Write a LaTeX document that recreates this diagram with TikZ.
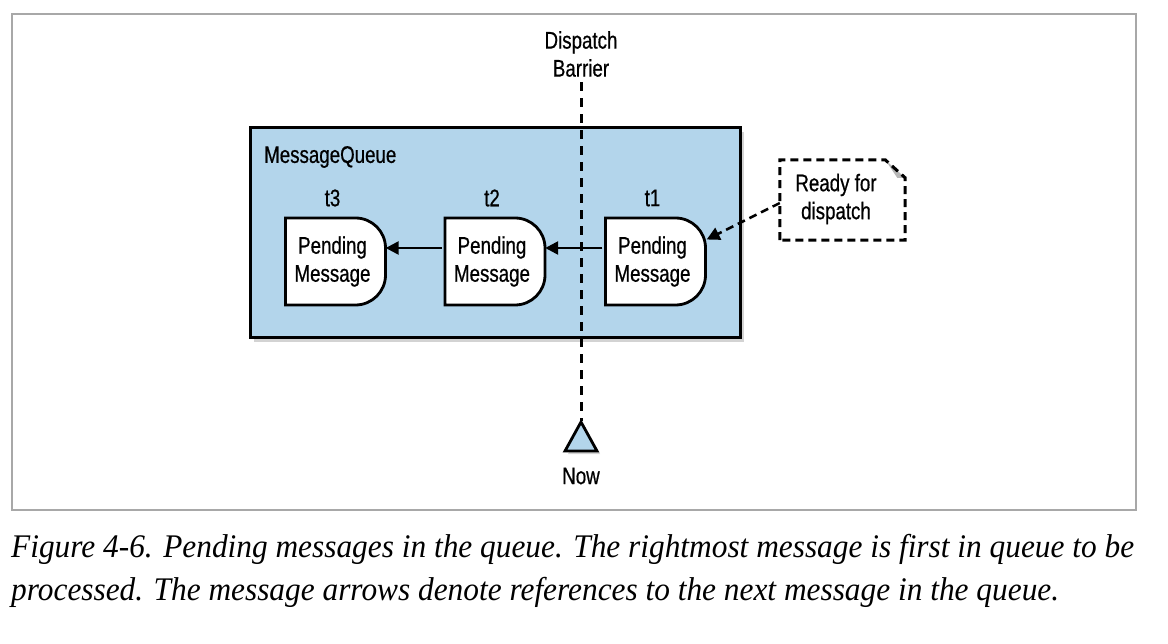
\documentclass[tikz,border=0pt]{standalone}
\usepackage{fontspec}
\setmainfont{Liberation Serif}
\newfontfamily\diag[FakeStretch=0.78,FakeBold=0.6]{Liberation Sans}
\newfontfamily\capfont[FakeStretch=0.95]{Liberation Serif}
\usetikzlibrary{shadows,arrows.meta}
\definecolor{qblue}{HTML}{B3D5EB}
\definecolor{framegray}{HTML}{A8A8A8}
\definecolor{foldgray}{HTML}{B8B8B8}
\newcommand\pendmsg[4]{% name, cx, cy, label
  \draw[msgline] (#2-50,#3-43.5) -- (#2+20,#3-43.5)
    arc[start angle=90,end angle=0,radius=30pt] -- (#2+50,#3+13.5)
    arc[start angle=0,end angle=-90,radius=30pt] -- (#2-50,#3+43.5) -- cycle;
  \node[msgtext] (#1) at (#2,#3) {Pending\\Message};
  \node[tlabel] (#1lab) at (#2-3,#3-63.5) {#4};
}
\begin{document}
\begin{tikzpicture}[x=1pt,y=-1pt,
  every node/.style={font=\diag\fontsize{24}{28}\selectfont, align=center, inner sep=0pt},
  msgline/.style={draw=black, fill=white, line width=2.8pt},
  msgtext/.style={minimum width=100pt, minimum height=87pt, xshift=-3pt},
  tlabel/.style={},
  qbox/.style={draw=black, fill=qblue, line width=3pt, minimum width=490pt, minimum height=210pt,
     drop shadow={opacity=0.35, shadow xshift=4pt, shadow yshift=-4pt}},
  link/.style={line width=2.5pt, -{Triangle[length=13pt,width=13pt]}},
  dlink/.style={line width=2.5pt, dash pattern=on 8pt off 5pt, -{Triangle[length=13pt,width=13pt]}},
  barrier/.style={line width=3pt, dash pattern=on 9pt off 7pt},
  caption/.style={font=\capfont\itshape\fontsize{33}{43}\selectfont, anchor=base west}
]
\useasboundingbox (0,0) rectangle (1168,644);
% outer frame
\draw[framegray, line width=1.2pt] (12,14) rectangle (1136,510);
% queue box
\node[qbox] (queue) at (495,233) {};
\node[anchor=west] (qlabel) at (264,157) {MessageQueue};
% messages
\pendmsg{m3}{335.5}{261.5}{t3}
\pendmsg{m2}{495}{261.5}{t2}
\pendmsg{m1}{655.5}{261.5}{t1}
% links
\draw[link] ([yshift=13.5pt]m1.west) -- ([yshift=13.5pt,xshift=3pt]m2.east);
\draw[link] ([yshift=13.5pt]m2.west) -- ([yshift=13.5pt,xshift=3pt]m3.east);
% ready for dispatch
\node[minimum width=125pt, minimum height=80pt] (rfd) at (842.5,200) {};
\node (rfdtext) at (836,199) {\fontsize{24}{26}\selectfont Ready for\\dispatch};
\fill[foldgray] ([xshift=-20pt]rfd.north east) -- ([yshift=-18pt]rfd.north east) -- ([xshift=-8pt,yshift=-18pt]rfd.north east) -- cycle;
\draw[line width=3pt, dash pattern=on 8pt off 5pt]
  (rfd.south west) -- (rfd.north west) -- ([xshift=-20pt]rfd.north east)
  -- ([yshift=-18pt]rfd.north east) -- (rfd.south east) -- cycle;
\draw[dlink] ([yshift=-3pt]rfd.west) -- ([yshift=22pt,xshift=4pt]m1.east);
% dispatch barrier
\node (disp) at (581,54) {Dispatch\\Barrier};
\coordinate (apex) at (581,421);
\draw[barrier] ([yshift=-5pt]disp.south) -- (apex);
\draw[fill=qblue, line width=2.8pt, line join=miter,
  drop shadow={opacity=0.35, shadow xshift=3pt, shadow yshift=-3pt}]
  (581,422) -- (597,451) -- (565,451) -- cycle;
\node (now) at (581,476) {Now};
% caption
\node[caption] (cap1) at (11,557) {Figure 4-6. Pending messages in the queue. The rightmost message is first in queue to be};
\node[caption] (cap2) at (11,600) {processed. The message arrows denote references to the next message in the queue.};
\end{tikzpicture}
\end{document}
